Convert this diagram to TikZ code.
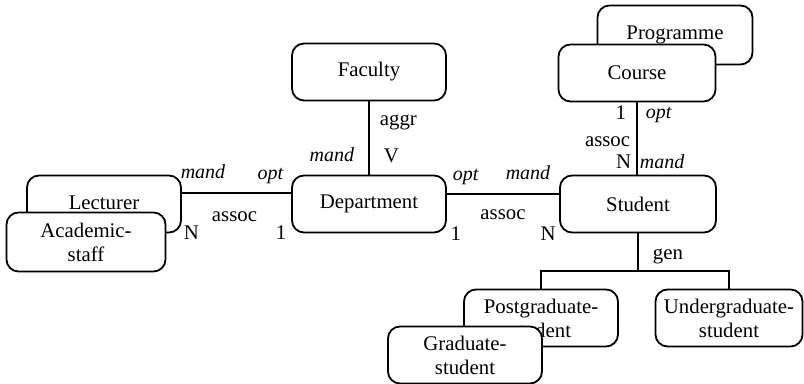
\documentclass[tikz,border=0pt]{standalone}
\usepackage{fontspec}
\setmainfont{Liberation Serif}

\begin{document}
\begin{tikzpicture}[x=0.5pt, y=-0.5pt, line width=0.9pt,
    entity/.style={rectangle, rounded corners=6pt, draw, fill=white, align=center,
        minimum width=77pt, minimum height=28.5pt, inner sep=0pt,
        font=\fontsize{10.4}{12}\selectfont},
    lbl/.style={inner sep=0pt, font=\fontsize{10.4}{12}\selectfont},
    card/.style={inner sep=0pt, font=\fontsize{10}{12}\selectfont\itshape}]
    \useasboundingbox (0,0) rectangle (804,384);

    \node[entity] (faculty) at (369,72) {Faculty};
    \node[entity] (dept) at (369,204) {Department};
    \node[entity, minimum width=77.5pt, minimum height=29.5pt] (prog) at (675,35) {\raisebox{1pt}{Programme}};
    \node[entity, minimum width=78.5pt] (course) at (637,73) {Course};
    \node[entity, minimum width=78pt] (stud) at (638,204) {Student};
    \node[entity] (lect) at (104,204) {\raisebox{1pt}{Lecturer}};
    \node[entity, minimum width=79.5pt, minimum height=29.5pt] (acad) at (86,242) {Academic-\\staff};
    \node[entity] (post) at (541,318) {Postgraduate-\\student};
    \node[entity] (grad) at (465,355) {Graduate-\\student};
    \node[entity, minimum width=73.5pt] (under) at (729,318) {Undergraduate-\\student};
    \coordinate (gen) at (638,271);

    \draw (faculty.south) -- node[lbl, pos=0, anchor=base west, xshift=5pt, yshift=-12pt] (l1) {aggr}
        node[lbl, pos=1, anchor=base west, xshift=7pt, yshift=6pt] (l2) {V}
        node[card, pos=1, anchor=base east, xshift=-7pt, yshift=6.5pt] (l3) {mand} (dept.north);
    \draw ([yshift=5.5pt]lect.east) -- node[card, pos=0, anchor=base west, xshift=-1pt, yshift=7pt] (l4) {mand}
        node[card, pos=1, anchor=base east, xshift=-3.5pt, yshift=6.5pt] (l5) {opt}
        node[lbl, pos=.5, anchor=base, xshift=-1pt, yshift=-14.5pt] (l6) {assoc}
        node[lbl, pos=0, anchor=base, xshift=4.75pt, yshift=-23.5pt] (l7) {N}
        node[lbl, pos=1, anchor=base, xshift=-5pt, yshift=-23.5pt] (l8) {1} ([yshift=5.5pt]dept.west);
    \draw ([yshift=5pt]dept.east) -- node[card, pos=0, anchor=base west, xshift=2.5pt, yshift=6.5pt] (l9) {opt}
        node[card, pos=1, anchor=base east, xshift=-4pt, yshift=7pt] (l10) {mand}
        node[lbl, pos=.5, anchor=base, yshift=-13pt] (l11) {assoc}
        node[lbl, pos=0, anchor=base, xshift=4.5pt, yshift=-23.5pt] (l12) {1}
        node[lbl, pos=1, anchor=base, xshift=-5.5pt, yshift=-23.5pt] (l13) {N} ([yshift=5pt]stud.west);
    \draw (course.south) -- node[lbl, pos=0, anchor=base east, xshift=-5pt, yshift=-8.5pt] (l14) {1}
        node[card, pos=0, anchor=base west, xshift=4pt, yshift=-8pt] (l15) {opt}
        node[lbl, pos=.5, anchor=base east, xshift=-3pt, yshift=-4.25pt] (l16) {assoc}
        node[lbl, pos=1, anchor=base east, xshift=-2.5pt, yshift=3pt] (l17) {N}
        node[card, pos=1, anchor=base west, xshift=1pt, yshift=3pt] (l18) {mand} (course.south |- stud.north);
    \draw (stud.south) -- node[lbl, pos=.5, anchor=base west, xshift=7pt, yshift=-3.5pt] (l19) {gen} (gen);
    \draw (post.north) |- (gen) -| (under.north);
\end{tikzpicture}
\end{document}
